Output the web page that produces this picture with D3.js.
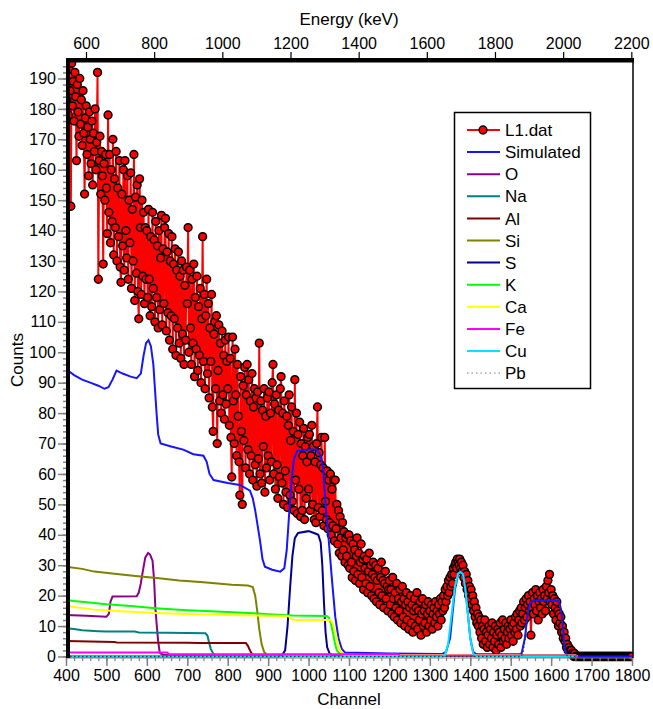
<!DOCTYPE html>
<html><head><meta charset="utf-8">
<script src="https://cdn.jsdelivr.net/npm/d3@7"></script>
<style>body{margin:0;background:#fff}svg{display:block}text{font-family:"Liberation Sans",Arial,sans-serif;fill:#000}</style>
</head><body>
<script>
// ---- data ----
const channelStart = 400, channelStep = 2;
const countsL1 = [
// 400-498
190,183,197,178,193,186,148,195,181,189,176,192,184,163,188,179,171,190,175,183,168,186,172,152,177,181,165,174,158,179,170,162,176,155,172,166,180,160,169,192,124,163,171,152,166,158,129,162,150,165,
// 500-598
154,139,178,146,165,136,160,143,170,132,157,141,166,130,154,138,163,128,123,152,135,160,127,163,140,131,158,124,150,136,159,121,147,130,165,117,151,126,155,120,111,157,141,119,150,125,146,116,141,124,
// 600-698
140,118,147,124,112,138,115,146,121,137,110,143,118,135,108,140,114,131,145,109,134,116,141,144,107,133,113,139,104,130,112,138,101,129,111,134,99,127,108,133,103,125,98,130,106,127,96,122,104,128,
// 700-798
116,141,100,127,108,96,124,103,129,92,118,101,125,94,115,99,121,90,111,138,97,119,88,112,124,93,116,85,108,97,119,82,74,106,110,88,112,70,94,109,84,103,80,107,86,99,78,104,83,97,
// 800-898
88,105,76,98,72,59,105,84,70,101,86,66,96,79,64,53,92,74,50,89,71,95,62,86,96,68,91,60,84,66,93,58,82,88,63,85,56,87,65,103,60,84,57,81,69,88,54,79,62,85,
// 900-998
66,87,58,80,64,90,96,60,83,55,86,63,52,81,59,88,92,57,80,50,84,61,54,79,49,76,86,53,71,82,51,74,48,91,58,80,47,73,55,77,46,70,48,66,75,45,69,52,64,72,
// 1000-1098
55,73,48,66,76,50,69,45,64,44,70,82,49,67,46,63,72,48,62,43,72,51,45,61,42,58,44,60,40,55,43,58,38,58,42,50,37,48,34,46,39,33,44,35,41,31,39,33,40,30,
// 1100-1198
40,29,38,31,26,37,28,35,25,33,39,27,34,24,31,37,26,32,22,33,29,24,32,21,28,34,23,30,20,27,31,19,26,30,18,25,29,21,17,26,31,20,25,16,24,28,19,23,15,22,
// 1200-1298
25,17,22,14,26,19,13,21,16,24,12,19,15,22,11,18,23,13,19,10,17,21,12,18,9,16,20,11,17,8,15,19,10,16,21,9,15,12,18,7,14,19,10,15,11,17,8,14,18,10,
// 1300-1398
15,12,17,9,14,16,11,18,13,15,10,17,14,19,12,18,15,20,16,22,18,23,20,25,21,26,23,27,24,29,27,30,31,29,32,31,30,32,29,31,28,30,26,28,24,27,22,25,20,23,
// 1400-1498
19,22,17,20,15,18,13,16,11,14,10,13,8,12,6,10,4,9,12,5,8,3,7,10,4,9,6,11,3,8,5,10,2,7,9,4,8,11,3,7,12,5,9,6,11,4,8,10,6,9,
// 1500-1598
12,7,10,5,11,8,13,9,14,7,12,15,10,16,11,14,18,12,16,19,13,17,20,15,18,7,16,21,14,19,17,22,15,20,12,18,21,16,19,14,22,18,20,15,23,19,25,21,27,18,
// 1600-1698
22,17,20,14,19,16,12,18,15,10,14,11,13,8,10,6,8,5,6,3,4,2,3,2,1,2,1,1,0,1,0,0,0,0,0,0,0,0,0,0,0,0,0,0,0,0,0,0,0,0,
// 1700-1800
0,0,0,0,0,0,0,0,0,0,0,0,0,0,0,0,0,0,0,0,0,0,0,0,0,0,0,0,0,0,0,0,0,0,0,0,0,0,0,0,0,0,0,0,0,0,0,0,0,0,
0];

const simulated = [[400,94.5],[420,92.5],[440,91],[460,90],[480,89],[495,88],[505,88.5],[515,91],[525,94],[540,93],[560,92],[575,91.5],[585,93],[592,99],[598,103],[604,104],[610,102],[616,96],[620,88],[624,80],[628,73],[634,70],[660,69],[690,68],[715,66.5],[740,66],[748,64],[755,60],[765,58],[800,57],[830,56.4],[855,54.5],[862,52],[868,48],[874,43],[880,38],[886,32],[892,29.5],[910,28.5],[930,27.9],[940,29],[946,35],[952,47],[958,58],[964,65],[972,67.5],[1000,68],[1020,68],[1030,66],[1036,62],[1042,50],[1050,38],[1058,25],[1066,13],[1074,6],[1082,2.5],[1090,1.3],[1120,1.2],[1200,1],[1330,0.8],[1340,1.5],[1350,6],[1356,14],[1362,22],[1370,27],[1376,28],[1382,27],[1388,22],[1394,14],[1400,6],[1407,1.5],[1415,0.7],[1520,0.7],[1527,1],[1535,6],[1542,14],[1548,17.5],[1556,18.4],[1590,18.4],[1618,18.3],[1622,17],[1626,14],[1630,8],[1634,2],[1640,0.3],[1660,0],[1800,0]];
const elemO  = [[400,13.6],[450,13.4],[500,13.1],[506,14],[510,18],[515,19.7],[575,19.8],[580,21],[585,24],[590,28],[596,32.5],[603,34],[608,33.5],[614,31.5],[618,25],[621,16],[624,11],[628,5],[632,1.2],[640,0.5],[1660,0.5],[1665,0]];
const elemNa = [[400,9.3],[420,9],[440,8.6],[480,8.3],[500,8.2],[570,8.2],[580,7.9],[650,7.8],[700,7.7],[745,7.6],[750,6.8],[754,4.5],[758,2.5],[764,1],[770,0.4],[1660,0.3],[1665,0]];
const elemAl = [[400,5.1],[520,4.8],[525,4.6],[700,4.5],[730,4.4],[845,4.4],[850,3.5],[855,2],[860,0.8],[866,0.4],[1660,0.3],[1665,0]];
const elemSi = [[400,29.5],[440,28.8],[470,27.9],[520,27.2],[560,26.6],[630,25.7],[680,25],[740,24.4],[810,23.6],[850,23.3],[862,22.8],[868,20],[873,15],[878,9],[884,4],[890,1.5],[898,0.5],[1660,0.3],[1665,0]];
const elemS  = [[400,0],[925,0],[935,0.5],[942,2],[948,10],[954,22],[960,33],[966,38.9],[974,40.6],[1000,41.2],[1015,40.5],[1024,40],[1030,37.5],[1034,30],[1038,18],[1042,8],[1046,3],[1052,1],[1060,0.3],[1665,0]];
const elemK  = [[400,18.6],[420,18.2],[470,17.6],[500,17.2],[560,16.6],[630,15.8],[700,15.2],[800,14.6],[864,14.2],[900,13.9],[960,13.5],[1045,13.3],[1050,12.8],[1055,11],[1060,8],[1065,4.5],[1070,2],[1078,0.8],[1090,0.4],[1660,0.3],[1665,0]];
const elemCa = [[400,16.6],[420,16.3],[470,15.4],[500,15.1],[560,14.7],[620,14.3],[700,14],[800,13.6],[950,13.3],[958,12.3],[965,12],[1055,12],[1062,10],[1068,7],[1074,3.5],[1080,1.5],[1088,0.6],[1660,0.3],[1665,0]];
const elemFe = [[400,1.3],[650,1.3],[655,0.8],[1222,0.7],[1226,0.3],[1660,0.3],[1665,0]];
const elemCu = [[400,0],[1330,0],[1337,0.4],[1345,4],[1354,14],[1362,23],[1370,27.3],[1376,27.8],[1382,27],[1388,22],[1394,14],[1400,6],[1407,1],[1415,0],[1660,0]];
const elemPb = [[400,0],[1525,0],[1530,1],[1536,6],[1542,14],[1548,17.5],[1556,18.2],[1590,18.2],[1618,18],[1622,16.5],[1626,13.5],[1630,7.5],[1634,2],[1640,0.2],[1660,0]];

const legendNames = ["L1.dat","Simulated","O","Na","Al","Si","S","K","Ca","Fe","Cu","Pb"];
const channelTicks = [400,500,600,700,800,900,1000,1100,1200,1300,1400,1500,1600,1700,1800];
const energyTicks = [600,800,1000,1200,1400,1600,1800,2000,2200];
const countTicks = [0,10,20,30,40,50,60,70,80,90,100,110,120,130,140,150,160,170,180,190];

// ---- layout ----
const W = 653, H = 709;
const L = 66, R = 633, T = 58, B = 658;
const svg = d3.select("body").append("svg").attr("width", W).attr("height", H);
svg.append("rect").attr("width", W).attr("height", H).attr("fill", "#fff");

const x = d3.scaleLinear().domain([400, 1800]).range([66, 632]);
const y = d3.scaleLinear().domain([-0.5, 196.4]).range([658, 59]);
const xE = d3.scaleLinear().domain([541.3, 2202]).range([66, 632]);
const fmt = d3.format("d");

svg.append("clipPath").attr("id", "clip").append("rect")
  .attr("x", L).attr("y", T).attr("width", R - L).attr("height", B - T + 4);

const plot = svg.append("g").attr("clip-path", "url(#clip)");
const line = d3.line().x(d => x(d[0])).y(d => y(d[1]));

const l1 = countsL1.map((v, i) => [channelStart + i * channelStep, v]);
plot.append("path").datum(l1).attr("d", line).attr("fill", "none").attr("stroke", "#ff0000").attr("stroke-width", 2);
plot.append("g").selectAll("circle").data(l1).join("circle")
  .attr("cx", d => x(d[0])).attr("cy", d => y(d[1])).attr("r", 3.9)
  .attr("fill", "#ff0000").attr("stroke", "#000").attr("stroke-width", 1.5);

const series = [
  {d: simulated, c: "#1515ff"},
  {d: elemO, c: "#8a008a"},
  {d: elemNa, c: "#008080"},
  {d: elemAl, c: "#800000"},
  {d: elemSi, c: "#808000"},
  {d: elemS, c: "#000090"},
  {d: elemK, c: "#00ff00"},
  {d: elemCa, c: "#ffff00"},
  {d: elemFe, c: "#ff00ff"},
  {d: elemCu, c: "#00e5ff"},
  {d: elemPb, c: "#333", dash: "1.5,2.5"}
];
series.forEach(s => {
  plot.append("path").datum(s.d).attr("d", line).attr("fill", "none")
    .attr("stroke", s.c).attr("stroke-width", s.dash ? 1.3 : 2)
    .attr("stroke-dasharray", s.dash || null);
});

// ---- axes ----
const tickCol = "#808080";
const ff = '"Liberation Sans",Arial,sans-serif';
const gyMinor = svg.append("g").attr("transform", `translate(${L},0)`)
  .call(d3.axisLeft(y).tickValues(d3.range(0, 196, 2)).tickSize(3).tickFormat(""));
gyMinor.select(".domain").remove();
gyMinor.selectAll("line").attr("stroke", tickCol).attr("stroke-width", 1.5);
const gy = svg.append("g").attr("transform", `translate(${L},0)`)
  .call(d3.axisLeft(y).tickValues(countTicks).tickSize(8).tickPadding(2).tickFormat(fmt));
gy.select(".domain").remove();
gy.selectAll("line").attr("stroke", tickCol).attr("stroke-width", 1.5);
gy.selectAll("text").attr("font-size", 16).style("font-family", ff);

svg.append("line").attr("x1", L).attr("x2", R).attr("y1", B).attr("y2", B).attr("stroke", tickCol).attr("stroke-width", 1.2);
const gxMinor = svg.append("g").attr("transform", `translate(0,${B})`)
  .call(d3.axisBottom(x).tickValues(d3.range(400, 1801, 20)).tickSize(3).tickFormat(""));
gxMinor.select(".domain").remove();
gxMinor.selectAll("line").attr("stroke", tickCol).attr("stroke-width", 1.2);
const gx = svg.append("g").attr("transform", `translate(0,${B})`)
  .call(d3.axisBottom(x).tickValues(channelTicks).tickSize(8).tickPadding(4).tickFormat(fmt));
gx.select(".domain").remove();
gx.selectAll("line").attr("stroke", tickCol).attr("stroke-width", 1.5);
gx.selectAll("text").attr("font-size", 16).style("font-family", ff);

const gt = svg.append("g").attr("transform", `translate(0,${T})`)
  .call(d3.axisTop(xE).tickValues(energyTicks).tickSize(6).tickPadding(3).tickFormat(fmt));
gt.select(".domain").remove();
gt.selectAll("line").attr("stroke", "#000").attr("stroke-width", 1.2);
gt.selectAll("text").attr("font-size", 16).style("font-family", ff);

// frame bars
svg.append("rect").attr("x", L).attr("y", T).attr("width", R - L + 1).attr("height", 4.5).attr("fill", "#000");
svg.append("rect").attr("x", L).attr("y", T).attr("width", 4).attr("height", B - T).attr("fill", "#000");
svg.append("line").attr("x1", R).attr("x2", R).attr("y1", T).attr("y2", B).attr("stroke", "#000").attr("stroke-width", 1.5);

// titles
svg.append("text").attr("x", 349).attr("y", 25).attr("text-anchor", "middle").attr("font-size", 17).text("Energy (keV)");
svg.append("text").attr("x", 349).attr("y", 705).attr("text-anchor", "middle").attr("font-size", 17).text("Channel");
svg.append("text").attr("transform", "translate(23,360) rotate(-90)").attr("text-anchor", "middle").attr("font-size", 17).text("Counts");

// legend
const lg = svg.append("g");
lg.append("rect").attr("x", 454.5).attr("y", 112.5).attr("width", 136).attr("height", 276)
  .attr("fill", "#fff").attr("stroke", "#000").attr("stroke-width", 1.5);
const legendStyles = [{c: "#ff0000"}].concat(series);
legendNames.forEach((name, i) => {
  const yy = 130 + i * 22.1;
  const s = legendStyles[i];
  lg.append("line").attr("x1", 467).attr("x2", 500).attr("y1", yy).attr("y2", yy)
    .attr("stroke", i === 11 ? "#777" : s.c).attr("stroke-width", s.dash ? 1 : 2)
    .attr("stroke-dasharray", s.dash ? "1.5,3" : null);
  if (i === 0) lg.append("circle").attr("cx", 483).attr("cy", yy).attr("r", 3.9)
    .attr("fill", "#ff0000").attr("stroke", "#000").attr("stroke-width", 1.5);
  lg.append("text").attr("x", 505).attr("y", yy).attr("dy", "0.36em").attr("font-size", 17).text(name);
});
</script>
</body></html>
